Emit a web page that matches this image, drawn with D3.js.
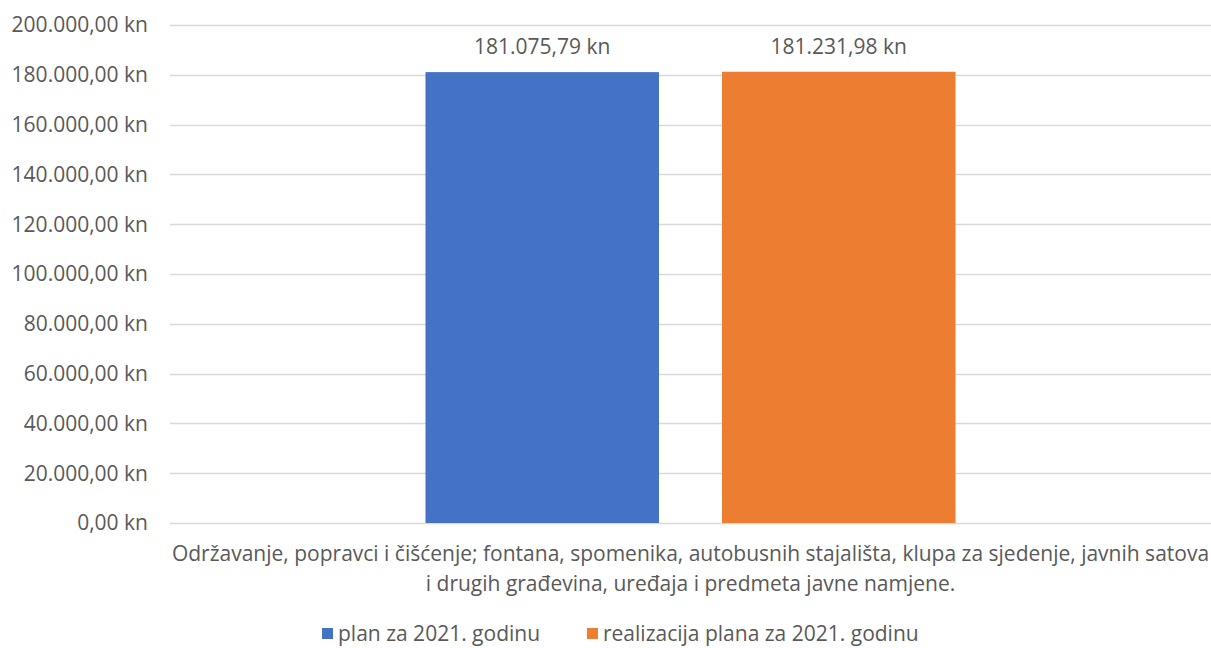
<!DOCTYPE html>
<html><head><meta charset="utf-8">
<script src="https://cdn.jsdelivr.net/npm/d3@7"></script>
<style>body{margin:0;background:#fff}svg{display:block}text{font-family:"Open Sans",Lato,sans-serif;fill:#595959}</style>
</head><body>
<svg id="c" width="1211" height="648"></svg>
<script>
const categories = ["Održavanje, popravci i čišćenje; fontana, spomenika, autobusnih stajališta, klupa za sjedenje, javnih satova i drugih građevina, uređaja i predmeta javne namjene."];
const categoryLines = ["Održavanje, popravci i čišćenje; fontana, spomenika, autobusnih stajališta, klupa za sjedenje, javnih satova", "i drugih građevina, uređaja i predmeta javne namjene."];
const seriesNames = ["plan za 2021. godinu", "realizacija plana za 2021. godinu"];
const seriesValues = [181075.79, 181231.98];
const seriesLabels = ["181.075,79 kn", "181.231,98 kn"];
const colors = ["#4472C4", "#ED7D31"];
const yTicks = [0, 20000, 40000, 60000, 80000, 100000, 120000, 140000, 160000, 180000, 200000];
const fmt = v => d3.format(",.2f")(v).replace(/,/g, "#").replace(/\./g, ",").replace(/#/g, ".") + " kn";

const svg = d3.select("#c");
const pLeft = 170, pRight = 1211, pTop = 25, pBottom = 523;
const FS = 21;
const y = d3.scaleLinear().domain([0, 200000]).range([pBottom, pTop]);
const x0 = d3.scaleBand().domain(categories).range([pLeft, pRight]).paddingInner(0).paddingOuter(0.482);
const x1 = d3.scaleBand().domain(seriesNames).range([0, x0.bandwidth()]).paddingInner(0.2125).paddingOuter(0);

// gridlines
svg.append("g").selectAll("line").data(yTicks).join("line")
  .attr("x1", pLeft).attr("x2", pRight)
  .attr("y1", d => Math.round(y(d)) + 0.5).attr("y2", d => Math.round(y(d)) + 0.5)
  .attr("stroke", "#d9d9d9").attr("stroke-width", 1.3);

// y labels
svg.append("g").selectAll("text").data(yTicks).join("text")
  .attr("x", 148).attr("y", d => y(d)).attr("dy", "0.35em")
  .attr("text-anchor", "end").attr("font-size", FS).text(d => fmt(d));

// bars
const data = seriesNames.map((s, i) => ({s, v: seriesValues[i], l: seriesLabels[i], c: colors[i]}));
const g = svg.append("g").attr("transform", `translate(${x0(categories[0])},0)`);
g.selectAll("rect").data(data).join("rect")
  .attr("x", d => x1(d.s)).attr("width", x1.bandwidth())
  .attr("y", d => y(d.v)).attr("height", d => y(0) - y(d.v))
  .attr("fill", d => d.c);
g.selectAll("text").data(data).join("text")
  .attr("x", d => x1(d.s) + x1.bandwidth() / 2).attr("y", d => y(d.v) - 18)
  .attr("text-anchor", "middle").attr("font-size", FS).text(d => d.l);

// category label
const cx = x0(categories[0]) + x0.bandwidth() / 2;
svg.append("g").selectAll("text").data(categoryLines).join("text")
  .attr("x", cx).attr("y", (d, i) => 561 + i * 30)
  .attr("text-anchor", "middle").attr("font-size", FS).text(d => d);

// legend
const leg = svg.append("g");
const legX = [322, 587];
data.forEach((d, i) => {
  leg.append("rect").attr("x", legX[i]).attr("y", 628).attr("width", 11).attr("height", 11).attr("fill", d.c);
  leg.append("text").attr("x", legX[i] + 16).attr("y", 634).attr("dy", "0.35em").attr("font-size", FS).text(d.s);
});
</script>
</body></html>
